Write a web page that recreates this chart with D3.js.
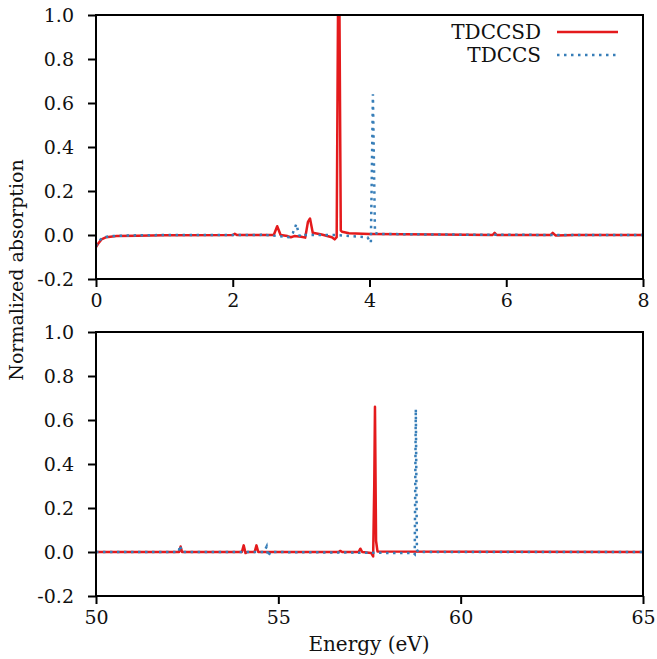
<!DOCTYPE html>
<html><head><meta charset="utf-8">
<script src="https://cdn.jsdelivr.net/npm/d3@7"></script>
<style>body{margin:0;background:#fff}svg{display:block}text{font-family:"DejaVu Serif",serif;fill:#111}</style>
</head><body><svg id="c" width="657" height="659"></svg>
<script>
// ---- data ----
const seriesNames = ["TDCCSD", "TDCCS"];
const topXTicks = [0, 2, 4, 6, 8];
const botXTicks = [50, 55, 60, 65];
const yTicks = [-0.2, 0.0, 0.2, 0.4, 0.6, 0.8, 1.0];
const yTickLabels = ["-0.2", "0.0", "0.2", "0.4", "0.6", "0.8", "1.0"];

const topRedE = [0,0.03,0.08,0.15,0.3,0.6,1.0,2.0,2.03,2.06,2.6,2.65,2.7,2.8,2.85,2.9,3.0,3.06,3.1,3.13,3.17,3.3,3.45,3.49,3.52,3.54,3.56,3.58,3.6,3.7,4.0,4.5,5.0,5.8,5.83,5.86,6.65,6.68,6.72,7.0,8.0];
const topRedA = [-0.055,-0.04,-0.02,-0.01,-0.005,-0.003,-0.001,0.0,0.006,0.0,0.0,0.04,0.0,-0.005,-0.01,-0.005,-0.008,-0.012,0.06,0.075,0.01,0.002,-0.01,-0.02,-0.01,1.05,1.05,0.02,0.015,0.008,0.005,0.003,0.002,0.0,0.01,0.0,0.0,0.01,-0.002,0.0,0.0];
const topBlueE = [0,0.03,0.1,0.2,0.5,1.0,2.4,2.45,2.5,2.82,2.88,2.93,2.97,3.0,3.05,3.5,3.97,4.02,4.05,4.08,4.12,5.0,6.97,7.0,7.03,8.0];
const topBlueA = [-0.05,-0.03,-0.012,-0.005,-0.002,0.0,0.0,0.005,0.0,-0.01,0.01,0.05,0.0,-0.008,0.0,0.0,-0.01,-0.035,0.64,0.01,0.005,0.002,0.0,0.003,0.0,0.0];
const botRedE = [50,52.28,52.32,52.36,54.0,54.05,54.1,54.15,54.35,54.4,54.45,56.65,56.7,56.75,57.2,57.25,57.3,57.55,57.6,57.63,57.65,57.68,57.72,65];
const botRedA = [0,0,0.025,0,0,0.03,-0.005,0,0,0.03,0,0,0.005,0,0,0.015,0,-0.005,-0.02,0.3,0.66,0.05,0.002,0];
const botBlueE = [50,52.27,52.3,52.36,54.6,54.65,54.68,54.72,54.78,58.7,58.74,58.77,58.8,58.84,65];
const botBlueA = [0,0,0.03,0,0,0.015,0.025,-0.02,0,-0.005,-0.01,0.65,0.01,0,0];

const colors = {red:"#e41a1c", blue:"#377eb8"};

// ---- layout ----
const svg = d3.select("#c");
const L = 96, R = 643;
const panels = [
  {top:15, bot:279, dom:[0,8], ticks:topXTicks, red:[topRedE,topRedA], blue:[topBlueE,topBlueA]},
  {top:332, bot:596, dom:[50,65], ticks:botXTicks, red:[botRedE,botRedA], blue:[botBlueE,botBlueA]}
];
const fs = 19;
panels.forEach((p,i)=>{
  const x = d3.scaleLinear().domain(p.dom).range([L,R]);
  const y = d3.scaleLinear().domain([-0.2,1.0]).range([p.bot,p.top]);
  const g = svg.append("g");
  g.append("clipPath").attr("id","clip"+i).append("rect").attr("x",L).attr("y",p.top).attr("width",R-L).attr("height",p.bot-p.top);
  const line = d3.line().x(d=>x(d[0])).y(d=>y(d[1]));
  const mk = s => s[0].map((e,k)=>[e,s[1][k]]);
  g.append("path").datum(mk(p.red)).attr("d",line).attr("clip-path",`url(#clip${i})`)
    .attr("fill","none").attr("stroke",colors.red).attr("stroke-width",2.5).attr("stroke-linejoin","round");
  g.append("path").datum(mk(p.blue)).attr("d",line).attr("clip-path",`url(#clip${i})`)
    .attr("fill","none").attr("stroke",colors.blue).attr("stroke-width",2.5).attr("stroke-dasharray","2.5,4.5");
  // axes
  const xa = d3.axisBottom(x).tickValues(p.ticks).tickSize(8).tickPadding(7).tickFormat(d3.format("d"));
  const ya = d3.axisLeft(y).tickValues(yTicks).tickSize(8).tickPadding(14).tickFormat((d,k)=>yTickLabels[k]);
  const gx = g.append("g").attr("transform",`translate(0,${p.bot})`).call(xa);
  const gy = g.append("g").attr("transform",`translate(${L},0)`).call(ya);
  [gx,gy].forEach(a=>{
    a.select(".domain").remove();
    a.selectAll("line").attr("stroke","#000").attr("stroke-width",2);
    a.selectAll("text").attr("font-size",fs).style("font-family","DejaVu Serif").attr("fill","#111");
  });
  g.append("rect").attr("x",L).attr("y",p.top).attr("width",R-L).attr("height",p.bot-p.top)
    .attr("fill","none").attr("stroke","#000").attr("stroke-width",2);
});
// labels
svg.append("text").attr("transform","translate(23,270) rotate(-90)").attr("text-anchor","middle").attr("font-size",fs).text("Normalized absorption");
svg.append("text").attr("x",369).attr("y",651).attr("text-anchor","middle").attr("font-size",fs+1).text("Energy (eV)");
// legend
const leg = svg.append("g");
[[colors.red,null,32],[colors.blue,"2.5,4.5",55]].forEach((d,k)=>{
  leg.append("text").attr("x",541).attr("y",d[2]+7).attr("text-anchor","end").attr("font-size",20).text(seriesNames[k]);
  leg.append("line").attr("x1",557).attr("x2",618).attr("y1",d[2]).attr("y2",d[2]).attr("stroke",d[0]).attr("stroke-width",2.5).attr("stroke-dasharray",d[1]);
});
</script></body></html>
